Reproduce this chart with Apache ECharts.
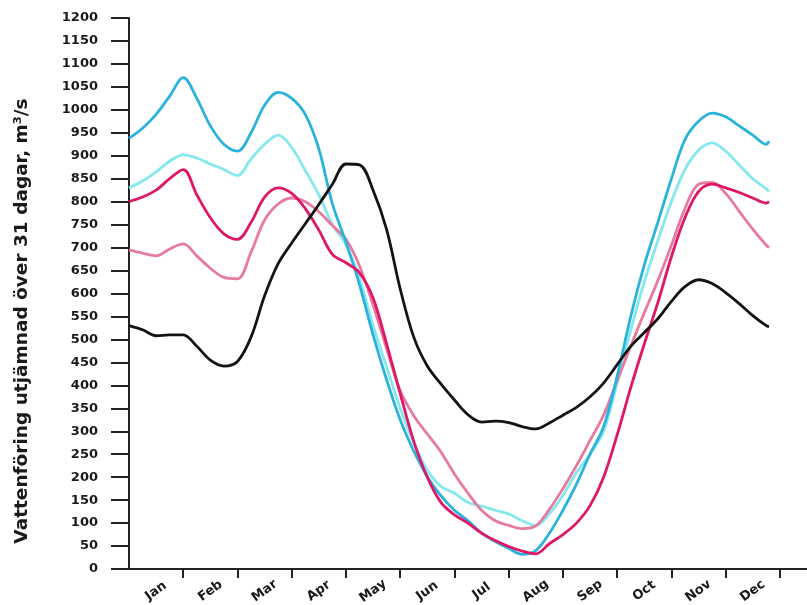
<!DOCTYPE html>
<html>
<head>
<meta charset="utf-8">
<script src="https://cdn.jsdelivr.net/npm/echarts@6/dist/echarts.min.js"></script>
<style>
  html, body { margin: 0; padding: 0; background: #ffffff; }
  #chart { width: 807px; height: 605px; }
</style>
</head>
<body>
<div id="chart"></div>
<script>
// Month names shown under the time axis
const monthNames = ['Jan', 'Feb', 'Mar', 'Apr', 'May', 'Jun', 'Jul', 'Aug', 'Sep', 'Oct', 'Nov', 'Dec'];
// Month boundaries (tick marks) and month centres (labels), in months from 1 Jan
const monthTicks = [1, 2, 3, 4, 5, 6, 7, 8, 9, 10, 11, 12];
const monthCentres = [0.5, 1.5, 2.5, 3.5, 4.5, 5.5, 6.5, 7.5, 8.5, 9.5, 10.5, 11.5];

// Time of year of each sample, in months from 1 Jan
const timeOfYear = [
  0, 0.25, 0.5, 0.75, 1, 1.25, 1.5, 1.75, 2, 2.25, 2.5, 2.75,
  3, 3.25, 3.5, 3.75, 4, 4.25, 4.5, 4.75, 5, 5.25, 5.5, 5.75,
  6, 6.25, 6.5, 6.75, 7, 7.25, 7.5, 7.75, 8, 8.25, 8.5, 8.75,
  9, 9.25, 9.5, 9.75, 10, 10.25, 10.5, 10.75, 11, 11.25, 11.5, 11.75, 11.8
];

// 31-day smoothed discharge, m3/s
const flowBlue = [
  938, 960, 990, 1030, 1070, 1025, 965, 925, 910, 950, 1010, 1038,
  1025, 990, 915, 795, 712, 619, 510, 412, 325, 257, 201, 160,
  128, 105, 78, 60, 45, 32, 40, 78, 128, 185, 250, 310,
  420, 550, 662, 755, 850, 935, 975, 993, 985, 965, 945, 925, 932
];
const flowLightBlue = [
  830, 845, 865, 888, 902, 895, 882, 870, 857, 893, 925, 945,
  918, 868, 815, 750, 706, 632, 530, 440, 350, 275, 215, 180,
  165, 145, 137, 128, 120, 105, 95, 120, 160, 210, 250, 300,
  405, 520, 625, 715, 800, 870, 912, 928, 910, 880, 850, 828, 822
];
const flowCrimson = [
  800, 810, 825, 850, 870, 815, 765, 730, 718, 755, 810, 830,
  818, 785, 738, 685, 667, 645, 590, 490, 382, 278, 200, 145,
  118, 100, 78, 62, 49, 39, 33, 55, 75, 100, 138, 200,
  292, 395, 490, 580, 680, 765, 822, 838, 830, 820, 808, 797, 800
];
const flowPink = [
  695, 688, 682, 697, 708, 682, 655, 635, 632, 690, 760, 795,
  808, 800, 778, 748, 718, 660, 575, 480, 388, 334, 294, 255,
  207, 165, 128, 105, 95, 88, 94, 130, 175, 225, 280, 335,
  410, 485, 558, 628, 705, 785, 838, 842, 818, 779, 740, 705, 700
];
const flowBlack = [
  530, 521, 508, 510, 510, 485, 455, 442, 452, 505, 595, 665,
  710, 752, 794, 838, 882, 880, 825, 739, 610, 505, 442, 403,
  368, 336, 320, 322, 319, 310, 305, 318, 335, 352, 375, 405,
  445, 485, 515, 545, 583, 615, 630, 622, 602, 578, 552, 530, 528
];

const axisTitle = 'Vattenföring utjämnad över 31 dagar, m³/s';
const fontFamily = '"DejaVu Sans", Verdana, sans-serif';

function pairs(values) {
  return values.map((v, i) => [timeOfYear[i], v]);
}

function lineSeries(name, values, color, z) {
  return {
    name: name,
    type: 'line',
    data: pairs(values),
    smooth: 0.35,
    showSymbol: false,
    z: z,
    lineStyle: { color: color, width: 2.8 },
    itemStyle: { color: color },
    emphasis: { disabled: true }
  };
}

const chart = echarts.init(document.getElementById('chart'), null, { renderer: 'canvas' });

chart.setOption({
  animation: false,
  backgroundColor: '#ffffff',
  grid: { left: 129, right: 0, top: 18, bottom: 36, containLabel: false, outerBoundsMode: 'none' },
  xAxis: {
    type: 'value',
    min: 0,
    max: 12.5,
    splitLine: { show: false },
    axisLine: { show: true, lineStyle: { color: '#222', width: 2 } },
    axisTick: {
      show: true,
      customValues: monthTicks,
      length: 9,
      inside: false,
      lineStyle: { color: '#222', width: 2 }
    },
    axisLabel: {
      show: true,
      customValues: monthCentres,
      formatter: v => monthNames[Math.floor(v)],
      rotate: 36,
      align: 'center',
      verticalAlign: 'middle',
      margin: 22,
      color: '#1a1a1a',
      fontFamily: fontFamily,
      fontWeight: 'bold',
      fontSize: 13
    }
  },
  yAxis: {
    type: 'value',
    min: 0,
    max: 1200,
    interval: 50,
    splitLine: { show: false },
    axisLine: { show: true, lineStyle: { color: '#222', width: 2 } },
    axisTick: { show: true, length: 18, lineStyle: { color: '#222', width: 2 } },
    axisLabel: {
      margin: 31,
      formatter: v => String(v),
      color: '#1a1a1a',
      fontFamily: fontFamily,
      fontWeight: 'bold',
      fontSize: 13
    }
  },
  graphic: [{
    type: 'text',
    x: 22,
    y: 321,
    rotation: Math.PI / 2,
    style: {
      text: axisTitle,
      fill: '#1a1a1a',
      font: 'bold 18.5px ' + fontFamily,
      textAlign: 'center',
      textVerticalAlign: 'middle'
    }
  }],
  series: [
    lineSeries('Ljusblå', flowLightBlue, '#86e8ef', 2),
    lineSeries('Rosa', flowPink, '#e77a9f', 3),
    lineSeries('Blå', flowBlue, '#2bb3dd', 4),
    lineSeries('Röd', flowCrimson, '#df1766', 5),
    lineSeries('Svart', flowBlack, '#141414', 6)
  ]
});
</script>
</body>
</html>
